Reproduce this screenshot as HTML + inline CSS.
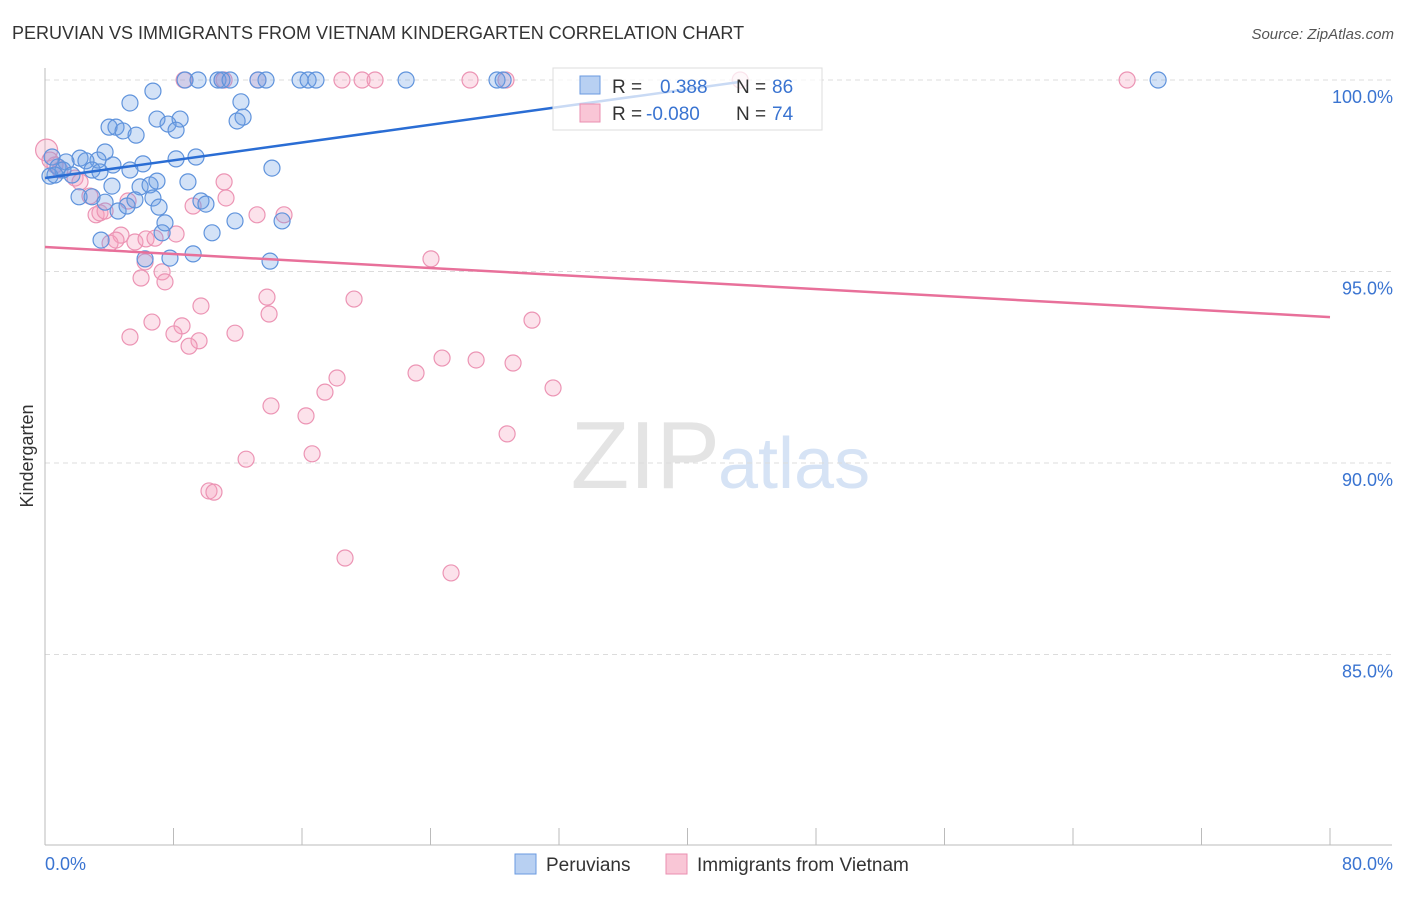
<!DOCTYPE html>
<html><head><meta charset="utf-8"><style>
body{margin:0;background:#fff;font-family:"Liberation Sans",sans-serif;}
svg text{font-family:"Liberation Sans",sans-serif;}
</style></head><body>
<svg id="chart" width="1406" height="892" viewBox="0 0 1406 892">
<text x="12" y="39" font-size="18" fill="#333">PERUVIAN VS IMMIGRANTS FROM VIETNAM KINDERGARTEN CORRELATION CHART</text>
<text x="1394" y="39" font-size="15" fill="#555" text-anchor="end" font-style="italic">Source: ZipAtlas.com</text>
<text x="720" y="488" font-size="96" fill="#e4e4e4" text-anchor="end" font-family="Liberation Serif">ZIP</text>
<text x="718" y="488" font-size="72" fill="#d6e3f5">atlas</text>
<g id="grid"></g>
<g id="axes"></g>
<g id="marks"></g>
<text transform="translate(33,456) rotate(-90)" font-size="18" fill="#333" text-anchor="middle">Kindergarten</text>
<g>
<rect x="553" y="68" width="269" height="62" fill="#fff" fill-opacity="0.75" stroke="#ddd"/>
<rect x="580" y="76" width="20" height="18" fill="#b8d0f2" stroke="#6a9ae0"/>
<rect x="580" y="104" width="20" height="18" fill="#f9c6d6" stroke="#ea8fb0"/>
<text x="612" y="93" font-size="19" fill="#333">R =</text><text x="660" y="93" font-size="19" fill="#3a74d1">0.388</text>
<text x="736" y="93" font-size="19" fill="#333">N =</text><text x="772" y="93" font-size="19" fill="#3a74d1">86</text>
<text x="612" y="120" font-size="19" fill="#333">R =</text><text x="646" y="120" font-size="19" fill="#3a74d1">-0.080</text>
<text x="736" y="120" font-size="19" fill="#333">N =</text><text x="772" y="120" font-size="19" fill="#3a74d1">74</text>
</g>
<g>
<rect x="515" y="854" width="21" height="20" fill="#b8d0f2" stroke="#6a9ae0"/>
<text x="546" y="871" font-size="19" fill="#333">Peruvians</text>
<rect x="666" y="854" width="21" height="20" fill="#f9c6d6" stroke="#ea8fb0"/>
<text x="697" y="871" font-size="19" fill="#333">Immigrants from Vietnam</text>
</g>
</svg>
<script>
const xTickLabels=["0.0%","80.0%"];
const yTicks=[100,95,90,85];
const yTickLabels=["100.0%","95.0%","90.0%","85.0%"];
const blueX=[8.72,9.53,10.77,11.02,11.52,13.26,13.76,15.88,16.38,16.87,22.48,28.14,28.52,69.3,6.72,5.29,12.20,8.41,6.97,7.66,12.33,11.96,3.99,4.42,4.86,5.67,8.16,3.74,0.44,2.18,3.30,2.55,1.31,6.10,8.16,9.40,4.23,14.13,0.81,1.12,2.93,5.29,1.68,0.31,0.62,3.42,4.17,5.92,6.54,6.97,8.90,2.12,2.93,3.74,4.55,5.11,5.60,6.72,7.10,9.71,10.02,11.83,14.76,7.47,7.29,10.40,3.49,9.22,6.23,14.01,7.78];
const blueY=[100,100,100,100,100,100,100,100,100,100,100,100,100,100,99.71,99.40,99.43,98.98,98.98,98.85,99.03,98.93,98.77,98.77,98.67,98.56,98.69,98.12,97.99,97.96,97.91,97.89,97.86,97.81,97.94,97.99,97.78,97.70,97.73,97.65,97.65,97.65,97.52,97.49,97.52,97.60,97.23,97.21,97.26,97.36,97.34,96.95,96.95,96.81,96.58,96.71,96.87,96.92,96.68,96.84,96.76,96.32,96.32,96.27,96.01,96.01,95.82,95.46,95.33,95.27,95.35];
const pinkX=[8.66,11.02,11.15,13.26,18.49,19.74,20.55,26.46,28.70,43.28,67.37,0.1,0.31,0.62,0.93,1.87,2.18,2.80,5.17,11.15,11.27,9.22,3.18,3.42,3.74,13.20,14.88,4.73,4.05,4.42,5.60,6.29,6.85,8.16,6.23,7.29,7.47,5.98,24.03,13.82,19.24,9.71,13.95,6.66,8.53,30.32,11.83,8.03,5.29,9.59,8.97,24.72,26.84,29.14,23.10,18.18,17.43,31.63,14.07,16.25,28.77,16.63,12.52,10.21,10.52,18.68,25.28];
const pinkY=[100,100,100,100,100,100,100,100,100,100,100,98.17,97.91,97.78,97.65,97.44,97.34,96.97,96.84,97.34,96.92,96.71,96.48,96.53,96.58,96.48,96.48,95.95,95.74,95.82,95.77,95.85,95.87,95.98,95.25,94.99,94.73,94.83,95.33,94.33,94.28,94.10,93.89,93.68,93.58,93.73,93.39,93.37,93.29,93.19,93.05,92.74,92.69,92.61,92.35,92.22,91.85,91.96,91.49,91.23,90.76,90.24,90.10,89.27,89.24,87.52,87.13];
const blueTrendX=[0,43.28];
const blueTrendY=[97.44,99.95];
const pinkTrendX=[0,80];
const pinkTrendY=[95.64,93.81];

const NS="http://www.w3.org/2000/svg";
const xs=v=>45+v*(1285/80);
const ys=v=>80+(100-v)*(191.5/5);
function mk(tag,attrs,parent){const e=document.createElementNS(NS,tag);for(const k in attrs)e.setAttribute(k,attrs[k]);parent.appendChild(e);return e;}
const grid=document.getElementById('grid'),axes=document.getElementById('axes'),marks=document.getElementById('marks');
yTicks.forEach((t,i)=>{
  const l=mk('line',{x1:45,x2:1392,y1:ys(t),y2:ys(t),stroke:'#dcdcdc','stroke-dasharray':'5,4'},grid);
  
  
  const tx=mk('text',{x:1393,y:ys(t)+23,'font-size':18,fill:'#3a74d1','text-anchor':'end'},axes);
  tx.textContent=yTickLabels[i];
  
  
});
const ax=mk('line',{x1:45,x2:1392,y1:845,y2:845,stroke:'#bbb'},axes);


const ay=mk('line',{x1:45,x2:45,y1:68,y2:845,stroke:'#bbb'},axes);


for(let i=0;i<=10;i++){
  const t=mk('line',{x1:xs(i*8),x2:xs(i*8),y1:828,y2:845,stroke:'#bbb'},axes);
  
  
}
const xl0=mk('text',{x:45,y:870,'font-size':18,fill:'#3a74d1'},axes);
xl0.textContent=xTickLabels[0];


const xl1=mk('text',{x:1393,y:870,'font-size':18,fill:'#3a74d1','text-anchor':'end'},axes);
xl1.textContent=xTickLabels[1];



pinkX.forEach((x,i)=>{
  const c=mk('circle',{cx:xs(x),cy:ys(pinkY[i]),r:(i===11?11:8),fill:'rgba(244,160,190,0.3)',stroke:'#ec94b4','stroke-width':1.2},marks);
  
  
});
blueX.forEach((x,i)=>{
  const c=mk('circle',{cx:xs(x),cy:ys(blueY[i]),r:8,fill:'rgba(110,160,230,0.3)',stroke:'#5f93dc','stroke-width':1.2},marks);
  
  
});
const bl=mk('line',{x1:xs(blueTrendX[0]),y1:ys(blueTrendY[0]),x2:xs(blueTrendX[1]),y2:ys(blueTrendY[1]),stroke:'#2a6dd4','stroke-width':2.5},marks);


const pl=mk('line',{x1:xs(pinkTrendX[0]),y1:ys(pinkTrendY[0]),x2:xs(pinkTrendX[1]),y2:ys(pinkTrendY[1]),stroke:'#e8709a','stroke-width':2.5},marks);


</script>
</body></html>
